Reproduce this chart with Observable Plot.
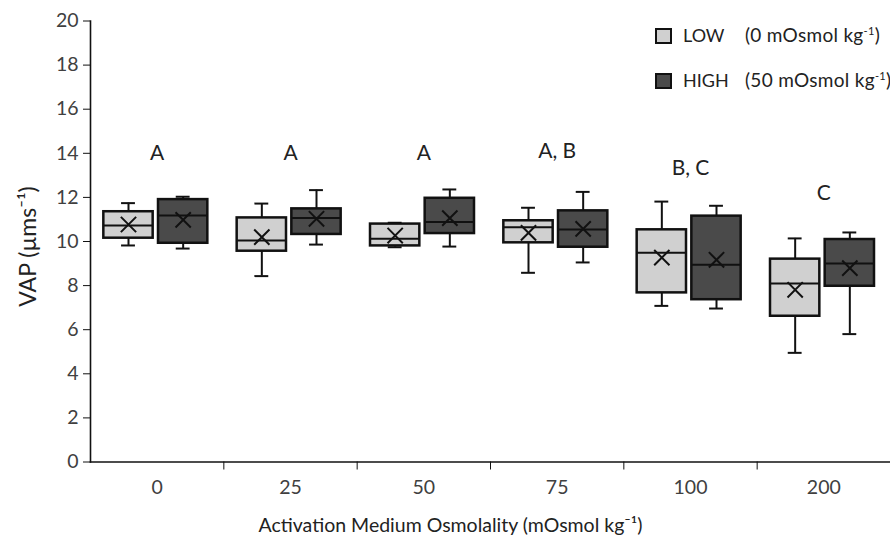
<!DOCTYPE html>
<html><head><meta charset="utf-8">
<script src="https://cdn.jsdelivr.net/npm/d3@7"></script>
<script src="https://cdn.jsdelivr.net/npm/@observablehq/plot@0.6"></script>
<style>
body{margin:0;background:#fff;font-family:Lato,"Open Sans",sans-serif;}
#wrap{position:relative;width:890px;height:546px;}
#legend{position:absolute;left:655px;top:26px;font-size:18px;color:#222;}
.row{position:absolute;left:0;height:20px;width:235px;white-space:nowrap;}
.sw{position:absolute;left:0;top:2px;width:13px;height:12px;border:2px solid #111;}
.t1{position:absolute;left:28px;top:-2px;}
.t2{position:absolute;left:90px;top:-3px;font-size:19px;letter-spacing:0.3px;}
sup{font-size:11px;vertical-align:7px;line-height:0;}
</style></head><body>
<div id="wrap"><div id="chart"></div>
<div id="legend">
  <div class="row" style="top:0px"><div class="sw" style="background:#d0d0d0"></div><span class="t1">LOW</span><span class="t2">(0 mOsmol kg<sup>-1</sup>)</span></div>
  <div class="row" style="top:45px"><div class="sw" style="background:#4a4a4a"></div><span class="t1">HIGH</span><span class="t2">(50 mOsmol kg<sup>-1</sup>)</span></div>
</div></div>
<script>
const categories = ["0", "25", "50", "75", "100", "200"];
const series = ["LOW", "HIGH"];
const yTicks = [0, 2, 4, 6, 8, 10, 12, 14, 16, 18, 20];
const xTitle = "Activation Medium Osmolality (mOsmol kg⁻¹)";
const yTitle = "VAP (µms⁻¹)";

const lowMin    = [9.82, 8.43, 9.74, 8.58, 7.08, 4.95];
const lowQ1     = [10.15, 9.56, 9.80, 9.94, 7.67, 6.61];
const lowMedian = [10.73, 10.05, 10.12, 10.65, 9.49, 8.10];
const lowQ3     = [11.35, 11.07, 10.79, 10.94, 10.53, 9.20];
const lowMax    = [11.74, 11.72, 10.85, 11.53, 11.81, 10.14];
const lowMean   = [10.77, 10.20, 10.27, 10.39, 9.27, 7.81];

const highMin    = [9.68, 9.86, 9.77, 9.05, 6.96, 5.80];
const highQ1     = [9.92, 10.32, 10.36, 9.74, 7.36, 7.97];
const highMedian = [11.18, 11.07, 10.88, 10.54, 8.94, 9.00];
const highQ3     = [11.90, 11.48, 11.96, 11.39, 11.15, 10.09];
const highMax    = [12.03, 12.33, 12.36, 12.25, 11.62, 10.41];
const highMean   = [10.98, 11.03, 11.06, 10.57, 9.17, 8.79];

const letters = ["A", "A", "A", "A, B", "B, C", "C"];
const letterY = [14.0, 14.0, 14.0, 14.1, 13.3, 12.2];

// layout constants (in category units)
const offset = {LOW: -0.215, HIGH: 0.195};
const halfW = 0.185, capHalf = 0.052;
const fills = {LOW: "#d0d0d0", HIGH: "#4a4a4a"};

const stats = {
  LOW: [lowMin, lowQ1, lowMedian, lowQ3, lowMax, lowMean],
  HIGH: [highMin, highQ1, highMedian, highQ3, highMax, highMean]
};
const rows = [];
categories.forEach((c, i) => series.forEach(s => {
  const [mn, q1, md, q3, mx, me] = stats[s];
  const xc = i + offset[s];
  rows.push({cat: c, series: s, xc, x1: xc - halfW, x2: xc + halfW, c1: xc - capHalf, c2: xc + capHalf,
    min: mn[i], q1: q1[i], median: md[i], q3: q3[i], max: mx[i], mean: me[i]});
}));
const letterRows = categories.map((c, i) => ({i, label: letters[i], y: letterY[i]}));

const chart = Plot.plot({
  width: 890, height: 546,
  marginLeft: 90, marginRight: 0, marginTop: 20.5, marginBottom: 84.5,
  style: {fontFamily: "Lato, 'Open Sans', sans-serif", color: "#222", background: "#fff"},
  x: {domain: [-0.5, 5.5]},
  y: {domain: [0, 20]},
  marks: [
    Plot.axisY({ticks: yTicks, tickSize: 7, tickPadding: 5, fontSize: 19.5, color: "#404040", stroke: "#111", label: null}),
    Plot.axisX({ticks: d3.range(categories.length), tickSize: 0, tickPadding: 18, fontSize: 19.5, color: "#404040",
      tickFormat: i => categories[i], label: null}),
    Plot.axisX({ticks: d3.range(0.5, categories.length - 1), tickSize: 8, tickFormat: () => "", stroke: "#111", label: null}),
    Plot.text([xTitle], {frameAnchor: "bottom", dy: 70, dx: -40, fontSize: 19.5, fill: "#222"}),
    Plot.text([yTitle], {frameAnchor: "left", dx: -62, dy: 5, rotate: -90, textAnchor: "middle", fontSize: 23, fill: "#222"}),
    Plot.frame({anchor: "left", stroke: "#111", strokeWidth: 1.6}),
    Plot.frame({anchor: "bottom", stroke: "#111", strokeWidth: 1.6}),
    Plot.ruleX(rows, {x: "xc", y1: "min", y2: "q1", stroke: "#111", strokeWidth: 2}),
    Plot.ruleX(rows, {x: "xc", y1: "q3", y2: "max", stroke: "#111", strokeWidth: 2}),
    Plot.ruleY(rows, {y: "min", x1: "c1", x2: "c2", stroke: "#111", strokeWidth: 2}),
    Plot.ruleY(rows, {y: "max", x1: "c1", x2: "c2", stroke: "#111", strokeWidth: 2}),
    Plot.rect(rows, {x1: "x1", x2: "x2", y1: "q1", y2: "q3", fill: d => fills[d.series], stroke: "#111", strokeWidth: 2.5}),
    Plot.ruleY(rows, {y: "median", x1: "x1", x2: "x2", stroke: "#111", strokeWidth: 2}),
    Plot.dot(rows, {x: "xc", y: "mean", symbol: "times", r: 7, stroke: "#111", strokeWidth: 2}),
    Plot.text(letterRows, {x: "i", y: "y", text: "label", fontSize: 21, fill: "#222"})
  ]
});
document.getElementById("chart").appendChild(chart);
</script>
</body></html>
